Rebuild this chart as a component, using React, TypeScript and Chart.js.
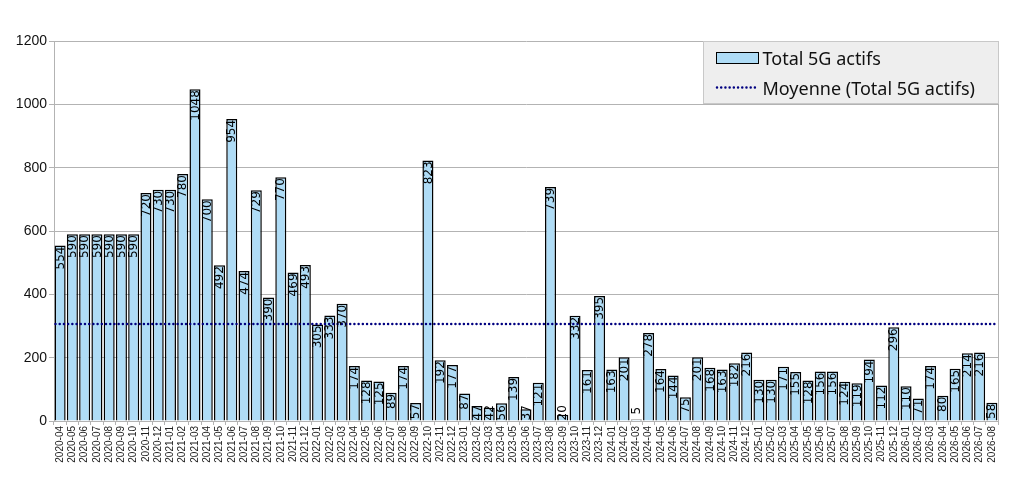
import React, { useEffect, useRef } from 'react';
import { Chart, registerables } from 'chart.js';

Chart.register(...registerables);

const categories: string[] = [
  '2020-04', '2020-05', '2020-06', '2020-07', '2020-08', '2020-09', '2020-10', '2020-11', '2020-12',
  '2021-01', '2021-02', '2021-03', '2021-04', '2021-05', '2021-06', '2021-07', '2021-08', '2021-09', '2021-10', '2021-11', '2021-12',
  '2022-01', '2022-02', '2022-03', '2022-04', '2022-05', '2022-06', '2022-07', '2022-08', '2022-09', '2022-10', '2022-11', '2022-12',
  '2023-01', '2023-02', '2023-03', '2023-04', '2023-05', '2023-06', '2023-07', '2023-08', '2023-09', '2023-10', '2023-11', '2023-12',
  '2024-01', '2024-02', '2024-03', '2024-04', '2024-05', '2024-06', '2024-07', '2024-08', '2024-09', '2024-10', '2024-11', '2024-12',
  '2025-01', '2025-02', '2025-03', '2025-04', '2025-05', '2025-06', '2025-07', '2025-08', '2025-09', '2025-10', '2025-11', '2025-12',
  '2026-01', '2026-02', '2026-03', '2026-04', '2026-05', '2026-06', '2026-07', '2026-08',
];

const totals5G: number[] = [
  554, 590, 590, 590, 590, 590, 590, 720, 730,
  730, 780, 1048, 700, 492, 954, 474, 729, 390, 770, 469, 493,
  305, 333, 370, 174, 128, 125, 89, 174, 57, 823, 192, 177,
  87, 47, 42, 56, 139, 37, 121, 739, 20, 332, 161, 395,
  163, 201, 5, 278, 164, 144, 75, 201, 168, 163, 182, 216,
  130, 130, 171, 155, 128, 156, 156, 124, 119, 194, 112, 296,
  110, 71, 174, 80, 165, 214, 216, 58,
];

const seriesLabel = 'Total 5G actifs';
const meanLabel = 'Moyenne (Total 5G actifs)';
const yMin = 0;
const yMax = 1200;
const yStep = 200;

const meanValue = totals5G.reduce((a, b) => a + b, 0) / totals5G.length;

const BAR_COLOR = '#afdcf6';
const MEAN_COLOR = '#000080';
const GRID_COLOR = '#b3b3b3';

function dottedLine(ctx: CanvasRenderingContext2D, x1: number, x2: number, y: number) {
  ctx.save();
  ctx.strokeStyle = MEAN_COLOR;
  ctx.lineWidth = 2.5;
  ctx.lineCap = 'round';
  ctx.setLineDash([0.01, 4.2]);
  ctx.beginPath();
  ctx.moveTo(x1 + 1.5, y);
  ctx.lineTo(x2, y);
  ctx.stroke();
  ctx.restore();
}

const overlayPlugin = {
  id: 'meanAndLabels',
  afterDatasetsDraw(chart: any) {
    const { ctx, chartArea } = chart;
    const yScale = chart.scales.y;

    // mean line across the plot area
    const my = yScale.getPixelForValue(meanValue);
    dottedLine(ctx, chartArea.left, chartArea.right, my);

    // value labels
    const meta = chart.getDatasetMeta(0);
    ctx.save();
    ctx.font = '12px "DejaVu Sans", sans-serif';
    ctx.fillStyle = '#000';
    ctx.textBaseline = 'middle';
    meta.data.forEach((el: any, i: number) => {
      const text = String(totals5G[i]);
      const tw = ctx.measureText(text).width;
      const barH = el.base - el.y;
      ctx.save();
      if (barH >= tw + 2) {
        ctx.translate(el.x + 0.5, el.y);
        ctx.rotate(-Math.PI / 2);
        ctx.textAlign = 'right';
        ctx.fillText(text, -1, 0);
      } else if (barH >= 4) {
        ctx.translate(el.x + 0.5, el.base);
        ctx.rotate(-Math.PI / 2);
        ctx.textAlign = 'left';
        ctx.fillText(text, 0, 0);
      } else {
        ctx.translate(el.x + 0.5, el.y);
        ctx.rotate(-Math.PI / 2);
        ctx.textAlign = 'left';
        ctx.fillText(text, 5, 0);
      }
      ctx.restore();
    });
    ctx.restore();
  },
};

const framePlugin = {
  id: 'frameAndLegend',
  afterDraw(chart: any) {
    const { ctx, chartArea } = chart;
    ctx.save();
    ctx.strokeStyle = GRID_COLOR;
    ctx.lineWidth = 1;
    ctx.beginPath();
    ctx.moveTo(Math.round(chartArea.right) + 0.5, chartArea.top);
    ctx.lineTo(Math.round(chartArea.right) + 0.5, chartArea.bottom);
    ctx.stroke();

    const w = 295;
    const h = 62;
    const x0 = Math.round(chartArea.right) - w + 0.5;
    const y0 = Math.round(chartArea.top) + 0.5;
    ctx.fillStyle = '#eeeeee';
    ctx.fillRect(x0, y0, w, h);
    ctx.strokeStyle = '#c8c8c8';
    ctx.strokeRect(x0, y0, w, h);

    ctx.fillStyle = BAR_COLOR;
    ctx.fillRect(x0 + 13, y0 + 11, 42, 11);
    ctx.strokeStyle = '#000';
    ctx.lineWidth = 1;
    ctx.strokeRect(x0 + 13, y0 + 11, 42, 11);

    dottedLine(ctx, x0 + 12, x0 + 55, y0 + 46);

    ctx.fillStyle = '#111';
    ctx.font = '18px "Noto Sans", "Open Sans", sans-serif';
    ctx.textAlign = 'left';
    ctx.textBaseline = 'alphabetic';
    ctx.fillText(seriesLabel, x0 + 59, y0 + 23);
    ctx.fillText(meanLabel, x0 + 59, y0 + 53);
    ctx.restore();
  },
};

export default function App() {
  const canvasRef = useRef<HTMLCanvasElement | null>(null);

  useEffect(() => {
    document.body.style.margin = '0';
    const canvas = canvasRef.current;
    if (!canvas) return;
    const chart = new Chart(canvas, {
      type: 'bar',
      data: {
        labels: categories,
        datasets: [
          {
            label: seriesLabel,
            data: totals5G,
            backgroundColor: BAR_COLOR,
            borderColor: '#000000',
            borderWidth: 1.5,
            barPercentage: 0.9,
            categoryPercentage: 1,
          },
        ],
      },
      options: {
        responsive: false,
        animation: false,
        devicePixelRatio: 1,
        layout: { padding: { top: 41, right: 33, left: 0, bottom: 0 } },
        plugins: {
          legend: { display: false },
          tooltip: { enabled: false },
          title: { display: false },
        },
        scales: {
          x: {
            type: 'category',
            offset: true,
            grid: {
              offset: true,
              drawOnChartArea: false,
              drawTicks: true,
              tickLength: 4,
              color: GRID_COLOR,
            },
            border: { display: true, color: GRID_COLOR },
            ticks: {
              autoSkip: false,
              maxRotation: 90,
              minRotation: 90,
              padding: 1,
              color: '#222',
              font: { family: '"Liberation Sans", Arial, sans-serif', size: 10 },
            },
            afterFit: (scale: any) => {
              scale.height = 64;
            },
          },
          y: {
            type: 'linear',
            min: yMin,
            max: yMax,
            ticks: {
              stepSize: yStep,
              padding: 2,
              color: '#111',
              font: { family: '"Liberation Sans", Arial, sans-serif', size: 14 },
              callback: (v: any) => String(v),
            },
            grid: {
              color: GRID_COLOR,
              tickLength: 5,
              lineWidth: 1,
            },
            border: { display: true, color: GRID_COLOR },
            afterFit: (scale: any) => {
              scale.width = 54;
            },
          },
        },
      },
      plugins: [overlayPlugin, framePlugin],
    });
    return () => chart.destroy();
  }, []);

  return (
    <div style={{ position: 'absolute', left: 0, top: 0 }}>
      <canvas ref={canvasRef} width={1031} height={485} style={{ display: 'block' }} />
    </div>
  );
}
